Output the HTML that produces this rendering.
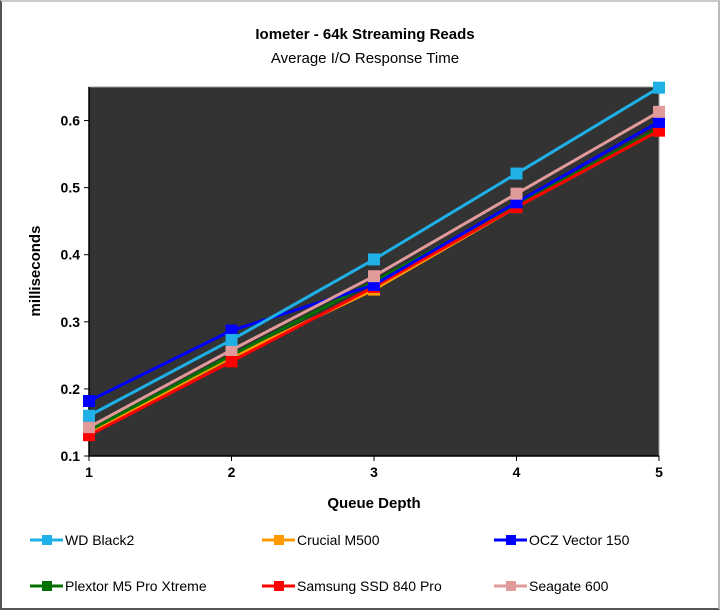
<!DOCTYPE html>
<html><head><meta charset="utf-8"><style>
html,body{margin:0;padding:0;background:#fff}
#wrap{position:relative;width:720px;height:610px;box-sizing:border-box;border:2px solid #555;border-top-color:#ccc;border-right-color:#bbb;overflow:hidden}
svg{position:absolute;left:-2px;top:-2px}
text{font-family:"Liberation Sans",Arial,sans-serif}
</style></head><body>
<div id="wrap">
<svg id="chart" width="720" height="610"></svg>
</div>
<script>
const categories = [1, 2, 3, 4, 5];
const yTicks = [0.1, 0.2, 0.3, 0.4, 0.5, 0.6];
const seriesNames = ["WD Black2", "Crucial M500", "OCZ Vector 150", "Plextor M5 Pro Xtreme", "Samsung SSD 840 Pro", "Seagate 600"];
const wdBlack2 = [0.160, 0.273, 0.393, 0.521, 0.649];
const crucialM500 = [0.135, 0.247, 0.348, 0.471, 0.585];
const oczVector150 = [0.182, 0.287, 0.355, 0.478, 0.598];
const plextorM5 = [0.138, 0.250, 0.360, 0.474, 0.588];
const samsung840 = [0.131, 0.241, 0.352, 0.471, 0.585];
const seagate600 = [0.143, 0.258, 0.368, 0.491, 0.613];

const colors = ["#1eb0e6", "#ff9900", "#0000ff", "#007000", "#ff0000", "#e09a9a"];
const seriesData = [wdBlack2, crucialM500, oczVector150, plextorM5, samsung840, seagate600];
const drawOrder = [1, 3, 4, 2, 5, 0];

const L = 89, R = 659, T = 87, B = 456, yMin = 0.1, yMax = 0.65;
const xs = v => L + (v - 1) * (R - L) / 4;
const ys = v => B - (v - yMin) * (B - T) / (yMax - yMin);
const NS = "http://www.w3.org/2000/svg";
const svg = document.getElementById("chart");
function mk(tag, attrs, parent) {
  const e = document.createElementNS(NS, tag);
  for (const k in attrs) e.setAttribute(k, attrs[k]);
  (parent || svg).appendChild(e);
  return e;
}

let t = mk("text", {x: 365, y: 39, "text-anchor": "middle", "font-size": 15, "font-weight": "bold", fill: "#000"});
t.textContent = "Iometer - 64k Streaming Reads";


t = mk("text", {x: 365, y: 63, "text-anchor": "middle", "font-size": 15, fill: "#000"});
t.textContent = "Average I/O Response Time";



const plot = mk("rect", {x: L, y: T, width: R - L, height: B - T, fill: "#333333", stroke: "#999", "stroke-width": 1});



const axes = mk("path", {d: `M${L},${T}V${B}H${R}`, stroke: "#000", "stroke-width": 1.5, fill: "none"});



yTicks.forEach(v => {
  const tk = mk("line", {x1: L - 5, x2: L, y1: ys(v), y2: ys(v), stroke: "#000"});
  
  
  const lb = mk("text", {x: L - 9, y: ys(v) + 5, "text-anchor": "end", "font-size": 14, "font-weight": "bold"});
  lb.textContent = v.toFixed(1);
  
  
});
categories.forEach(c => {
  const tk = mk("line", {x1: xs(c), x2: xs(c), y1: B, y2: B + 5, stroke: "#000"});
  
  
  const lb = mk("text", {x: xs(c), y: B + 21, "text-anchor": "middle", "font-size": 14, "font-weight": "bold"});
  lb.textContent = c;
  
  
});
t = mk("text", {x: 374, y: 508, "text-anchor": "middle", "font-size": 15, "font-weight": "bold"});
t.textContent = "Queue Depth";


t = mk("text", {x: 40, y: 271, "text-anchor": "middle", "font-size": 15, "font-weight": "bold", transform: "rotate(-90 40 271)"});
t.textContent = "milliseconds";



drawOrder.forEach(i => {
  const d = seriesData[i];
  const g = mk("g", {});
  
  
  const pts = d.map((v, j) => xs(categories[j]) + "," + ys(v)).join(" ");
  const pl = mk("polyline", {points: pts, fill: "none", stroke: colors[i], "stroke-width": 3}, g);
  
  
  d.forEach((v, j) => {
    const m = mk("rect", {x: xs(categories[j]) - 6, y: ys(v) - 6, width: 12, height: 12, fill: colors[i]}, g);
    
    
  });
});

const legPos = [[30, 540], [262, 540], [494, 540], [30, 586], [262, 586], [494, 586]];
seriesNames.forEach((n, i) => {
  const [x, y] = legPos[i];
  const g = mk("g", {});
  
  
  mk("line", {x1: x, x2: x + 33, y1: y, y2: y, stroke: colors[i], "stroke-width": 3}, g);
  mk("rect", {x: x + 12, y: y - 5, width: 10, height: 10, fill: colors[i]}, g);
  const lt = mk("text", {x: x + 35, y: y + 5, "font-size": 14, fill: "#000"}, g);
  lt.textContent = n;
});
</script>
</body></html>
